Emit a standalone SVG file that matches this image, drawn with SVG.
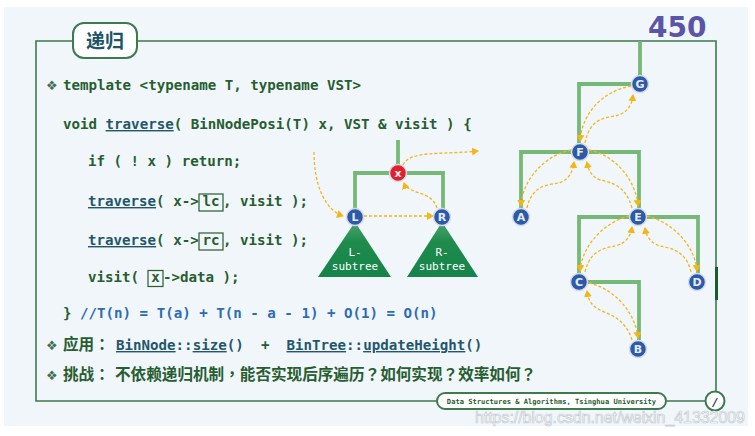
<svg xmlns="http://www.w3.org/2000/svg" width="755" height="436" viewBox="0 0 755 436">
<style>
.code{font-family:"DejaVu Sans Mono","Liberation Mono",monospace;font-size:14.15px;font-weight:bold;fill:#275d30;white-space:pre}
.ul{fill:#24566b;text-decoration:underline}
.tl{fill:#24566b}
.blue{fill:#2e6cb4}
.cjk{font-family:"Noto Sans CJK SC","Noto Sans",sans-serif;font-weight:bold;font-size:15.6px;fill:#275d30}
.p{font-family:"Noto Sans CJK TC","Noto Sans CJK SC",sans-serif}
.dia{font-family:"DejaVu Sans",sans-serif;font-size:13px;fill:#3f7050}
.frame{fill:none;stroke:#3d7a4d;stroke-width:1.6}
.edge{fill:none;stroke:#68b168;stroke-width:3.8;stroke-opacity:0.9}
.dash{fill:none;stroke:#f4b616;stroke-width:1.3;stroke-dasharray:3 2;marker-end:url(#ah)}
.node circle{fill:#2c5aa8;stroke:#d5dbe6;stroke-width:1.5}
.node text{font-family:"DejaVu Sans",sans-serif;font-weight:bold;font-size:11px;fill:#e6ebf5;text-anchor:middle}
.box{fill:none;stroke:#275d30;stroke-width:1.2}
.sub{font-family:"DejaVu Sans Mono",monospace;font-size:11px;fill:#ffffff;text-anchor:middle}
</style>
<defs>
<marker id="ah" markerWidth="8" markerHeight="8" refX="6" refY="4" orient="auto" markerUnits="userSpaceOnUse">
<path d="M0,0 L7,4 L0,8 Z" fill="#f4b616"/>
</marker>
<linearGradient id="tri" x1="0" y1="0" x2="0" y2="1">
<stop offset="0" stop-color="#4fa36f"/>
<stop offset="0.35" stop-color="#1f8c4c"/>
<stop offset="1" stop-color="#15834a"/>
</linearGradient>
</defs>
<rect x="0" y="0" width="755" height="436" fill="#ffffff"/>
<rect x="4" y="7" width="744" height="419" fill="#f0f6fa"/>

<g id="frame">
<path class="frame" d="M73,41 H36 V401 H437"/>
<path class="frame" d="M137,41 H716 V392"/>
<path class="frame" d="M666,401 H706"/>
<rect x="715" y="267" width="3" height="33" fill="#1f5a2a"/>
</g>

<g id="title">
<rect x="73" y="23" width="64" height="35" rx="11" fill="#ffffff" stroke="#3d7a4d" stroke-width="2"/>
<text x="105" y="48" text-anchor="middle" font-family="Noto Sans CJK SC, sans-serif" font-weight="bold" font-size="19" fill="#1d5566">递归</text>
</g>
<text x="648" y="37" font-family="DejaVu Sans, sans-serif" font-weight="bold" font-size="28" fill="#5a55a8">450</text>

<g id="code">
<text class="dia" x="46" y="90">❖</text>
<text class="code" x="63" y="90">template &lt;typename T, typename VST&gt;</text>
<text class="code" x="63" y="129">void <tspan class="ul">traverse</tspan>( BinNodePosi(T) x, VST &amp; visit ) {</text>
<text class="code" x="88" y="166">if ( ! x ) return;</text>
<text class="code" x="88" y="206"><tspan class="ul">traverse</tspan>( x-&gt;</text>
<text class="code" x="202.5" y="206">lc</text>
<text class="code" x="223" y="206">, visit );</text>
<rect class="box" x="199" y="194" width="24" height="17"/>
<text class="code" x="88" y="245"><tspan class="ul">traverse</tspan>( x-&gt;</text>
<text class="code" x="202.5" y="245">rc</text>
<text class="code" x="223" y="245">, visit );</text>
<rect class="box" x="199" y="233" width="24" height="17"/>
<text class="code" x="88" y="282">visit( </text>
<text class="code" x="151.2" y="282">x</text>
<text class="code" x="163" y="282">-&gt;data );</text>
<rect class="box" x="148" y="270.5" width="15" height="16"/>
<text class="code" x="63" y="318">} <tspan class="blue">//T(n) = T(a) + T(n - a - 1) + O(1) = O(n)</tspan></text>
<text class="dia" x="46" y="350">❖</text>
<text class="cjk" x="63" y="350">应用<tspan class="p">：</tspan></text>
<text class="code" x="116" y="350"><tspan class="ul">BinNode</tspan><tspan class="tl">::</tspan><tspan class="ul">size</tspan><tspan class="tl">()</tspan></text>
<text class="code" x="261" y="350">+</text>
<text class="code" x="286.5" y="350"><tspan class="ul">BinTree</tspan><tspan class="tl">::</tspan><tspan class="ul">updateHeight</tspan><tspan class="tl">()</tspan></text>
<text class="dia" x="46" y="380">❖</text>
<text class="cjk" x="63" y="380">挑战<tspan class="p">：</tspan></text>
<text class="cjk" x="115" y="380">不依赖递归机制<tspan class="p">，</tspan>能否实现后序遍历<tspan class="p">？</tspan>如何实现<tspan class="p">？</tspan>效率如何<tspan class="p">？</tspan></text>
</g>

<g id="connectors">
<path class="edge" d="M398,140 V165"/>
<path class="edge" d="M355,209 V173 H443 V209"/>
<path class="edge" d="M640,41 V76"/>
<path class="edge" d="M631,84 H579 V143"/>
<path class="edge" d="M521,208 V152 H639 V208"/>
<path class="edge" d="M579,273 V217 H698 V273"/>
<path class="edge" d="M588,282 H639 V340"/>
<path class="dash" d="M314,152 C314,185 325,210 343,216"/>
<path class="dash" d="M364,216 L433,216"/>
<path class="dash" d="M437,208 C433,195 420,194 412,190 C407,188 405,186 404,183"/>
<path class="dash" d="M403,165 C410,150 440,155 478,151"/>
<path class="dash" d="M631,86 C600,92 582,115 580,141"/>
<path class="dash" d="M585,143 C590,118 605,118 615,116 C628,113 632,105 633,95"/>
<path class="dash" d="M571,150 C545,155 522,180 521,206"/>
<path class="dash" d="M527,208 C532,185 548,185 558,183 C568,181 573,172 574,162"/>
<path class="dash" d="M589,150 C615,155 636,180 638,206"/>
<path class="dash" d="M632,208 C626,185 610,182 600,180 C590,176 588,168 587,162"/>
<path class="dash" d="M629,216 C605,222 582,245 580,271"/>
<path class="dash" d="M585,272 C590,250 605,248 615,246 C627,243 631,235 632,227"/>
<path class="dash" d="M647,216 C672,222 695,245 697,271"/>
<path class="dash" d="M691,272 C686,250 670,248 660,246 C650,243 646,235 645,228"/>
<path class="dash" d="M589,283 C612,288 635,310 638,338"/>
<path class="dash" d="M632,340 C625,318 610,315 600,310 C590,305 588,298 587,291"/>
</g>

<g id="L-subtree">
<path d="M355,222 L391,277 L318,277 Z" fill="url(#tri)"/>
<text class="sub" x="355" y="256">L-</text>
<text class="sub" x="355" y="270">subtree</text>
</g>
<g id="R-subtree">
<path d="M442,222 L478,277 L407,277 Z" fill="url(#tri)"/>
<text class="sub" x="442" y="256">R-</text>
<text class="sub" x="442" y="270">subtree</text>
</g>
<g id="node-x" class="node"><circle cx="398" cy="173" r="8.5" style="fill:#e2202b"/><text x="398" y="177">x</text></g>
<g id="node-L" class="node"><circle cx="355" cy="217" r="8.5"/><text x="355" y="221">L</text></g>
<g id="node-R" class="node"><circle cx="442" cy="217" r="8.5"/><text x="442" y="221">R</text></g>
<g id="node-G" class="node"><circle cx="640" cy="84" r="8.5"/><text x="640" y="88">G</text></g>
<g id="node-F" class="node"><circle cx="580" cy="152" r="8.5"/><text x="580" y="156">F</text></g>
<g id="node-A" class="node"><circle cx="521" cy="217" r="8.5"/><text x="521" y="221">A</text></g>
<g id="node-E" class="node"><circle cx="638" cy="217" r="8.5"/><text x="638" y="221">E</text></g>
<g id="node-C" class="node"><circle cx="579" cy="282" r="8.5"/><text x="579" y="286">C</text></g>
<g id="node-D" class="node"><circle cx="697" cy="282" r="8.5"/><text x="697" y="286">D</text></g>
<g id="node-B" class="node"><circle cx="638" cy="349" r="8.5"/><text x="638" y="353">B</text></g>

<g id="footer">
<rect x="437" y="393" width="229" height="16" rx="8" fill="#ffffff" stroke="#3d7a4d" stroke-width="2"/>
<text x="551.5" y="404" text-anchor="middle" font-family="DejaVu Sans Mono, monospace" font-weight="bold" font-size="7.1" fill="#275d30">Data Structures &amp; Algorithms, Tsinghua University</text>
<circle cx="715" cy="401" r="9.5" fill="#ffffff" stroke="#3d7a4d" stroke-width="2"/>
<text x="715" y="405.5" text-anchor="middle" font-family="DejaVu Sans, sans-serif" font-weight="bold" font-style="italic" font-size="11" fill="#1d3a4a">/</text>
</g>
<text x="475" y="423" font-family="Liberation Sans, sans-serif" font-size="16" textLength="270" fill="#ffffff" stroke="#c5cbd0" stroke-width="0.7">https://blog.csdn.net/weixin_41332009</text>
</svg>
